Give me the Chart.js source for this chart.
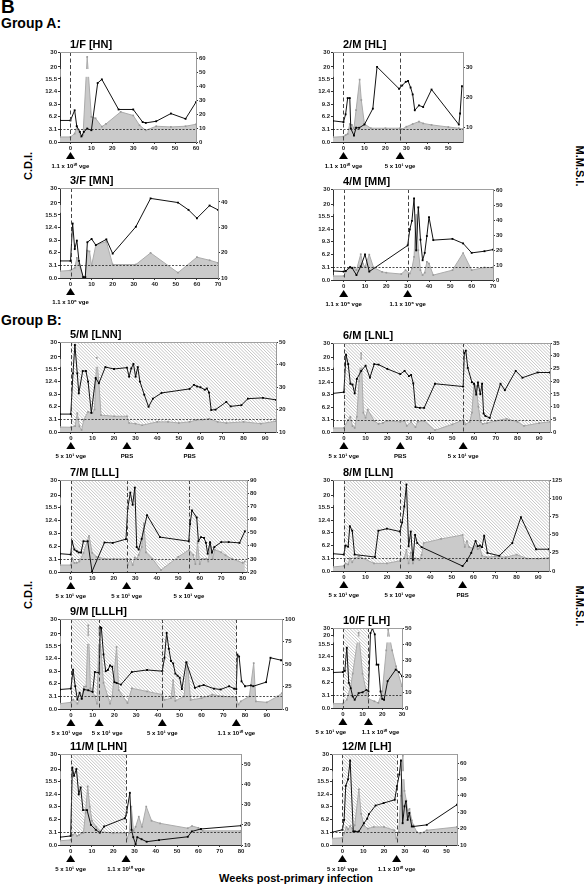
<!DOCTYPE html>
<html><head><meta charset="utf-8">
<script src="https://cdn.jsdelivr.net/npm/chart.js@4.4.0/dist/chart.umd.min.js"></script>
<style>
body{margin:0;width:584px;height:888px;position:relative;background:#fff;overflow:hidden;font-family:"Liberation Sans",Arial,sans-serif}
.t{position:absolute;font-weight:bold;color:#000;white-space:nowrap}
canvas{position:absolute}
</style></head><body>
<div class="t" style="left:1px;top:-3px;font-size:19px;line-height:19px">B</div>
<div class="t" style="left:1px;top:16px;font-size:14px;line-height:14px">Group A:</div>
<div class="t" style="left:1px;top:313px;font-size:14px;line-height:14px">Group B:</div>
<div class="t" style="left:28px;top:166px;font-size:11px;line-height:11px;transform:translate(-50%,-50%) rotate(-90deg)">C.D.I.</div>
<div class="t" style="left:28px;top:595px;font-size:11px;line-height:11px;transform:translate(-50%,-50%) rotate(-90deg)">C.D.I.</div>
<div class="t" style="left:579px;top:166px;font-size:11px;line-height:11px;transform:translate(-50%,-50%) rotate(90deg)">M.M.S.I.</div>
<div class="t" style="left:579px;top:606px;font-size:11px;line-height:11px;transform:translate(-50%,-50%) rotate(90deg)">M.M.S.I.</div>
<div class="t" style="left:296px;top:878px;font-size:11px;line-height:11px;transform:translate(-50%,-50%)">Weeks post-primary infection</div>
<script>
// C.D.I. axis is broken: 0-15.5 linear, then 20 and 30 squeezed on top
const cdiTicks = [0, 3.1, 6.2, 9.3, 12.4, 15.5, 20, 30];
const cdiLabels = ['0.0', '3.1', '6.2', '9.3', '12.4', '15.5', '20', '30'];

// [week, value]
const p1Cdi = [[-5,5.3],[0,5.3],[2,7.8],[3,3.9],[4.5,2.5],[5.3,1.4],[6.4,2.5],[8,3.3],[10,2.9],[13,14.5],[15,15.4],[23,8.0],[30,8.0],[34.5,4.9],[36,4.7],[41,5.1],[48,7.0],[55,5.7],[60,9.8]];
const p1Mmsi = [[-5,3.6],[0,3.6],[2,6],[3,10.8],[5,3.6],[6,5],[8,61],[10,18],[12,17],[15,11],[17,13],[24,21.6],[30,19],[33,12],[36,8.4],[41,11.3],[48,10.8],[55,11.3],[60,12.7]];
const p2Cdi = [[-5,5.2],[0,4.9],[1,6.8],[2,10.8],[3,10.8],[3.5,3.3],[5,1.6],[6,3.5],[7.5,3.5],[10,4.3],[14,8.2],[16,20],[26.5,13.1],[28,13.9],[29.7,14.8],[30.8,15.0],[32,13.4],[33,11.7],[34,7.8],[36,9.0],[38,8.6],[42,12.9],[55,4.3],[55.6,7.0],[56.5,13.7]];
const p2Mmsi = [[-5,6.6],[0,6.8],[1,7.3],[2,7.7],[3,11],[4,10.7],[5,9.6],[6,15.6],[7.7,25.8],[8.5,19],[10,11],[13,9.6],[20,9.6],[27,9.6],[28,9.3],[30,10.1],[33,11],[36,11.8],[38,11.2],[42,10.7],[50,10],[55,9.6],[57,9.3]];
const p3Cdi = [[-5,4.2],[0,4.2],[1,13.4],[2,7.1],[3,9.2],[4,4.2],[6,0.2],[7,0.2],[8,8.8],[10,9.6],[12,8.1],[17,9.5],[20,6.0],[31,12.6],[38,23],[51,20.2],[56,17.4],[60,14.7],[66,19],[70,17.4]];
const p3Mmsi = [[-5,12.7],[0,13],[2,14],[3,17.9],[4,15.3],[6,10.5],[7,10.5],[8,20.8],[9,20.5],[10,14.9],[12,23],[17,24.4],[20,15.3],[31,15.3],[38,19.9],[51,12.1],[60,18.2],[66,17],[70,16]];
const p4Cdi = [[-5,2.2],[0,2.05],[1,2.2],[3,3.1],[4,2.9],[6,1.2],[8,3.3],[10,6.2],[12,2.05],[30,8.4],[31,12.3],[32,14.4],[33,23.8],[34,7.2],[35,18.8],[36,9.8],[37,4.8],[38,6.6],[39,10.7],[40,15.3],[42,9.7],[51,10.0],[56,8.9],[60,6.6],[66,7.0],[70,7.4]];
const p4Mmsi = [[-5,2.7],[0,2.7],[2,7.7],[3,8.8],[5,8.4],[6,6.6],[8,17.3],[9,11],[10,8.8],[12,17],[14,8.4],[18,5.5],[20,4.9],[27,4],[29,6.6],[31,4.4],[32,7.7],[33,15.5],[34,47.6],[35,20],[36,6.6],[37,3.3],[38,4.9],[39,12.2],[40,11],[42,3.3],[51,6.6],[56,18.1],[60,6.6],[66,8.4],[70,8.4]];
const p5Cdi = [[-5,4.4],[0,4.4],[1,14.4],[1.9,28],[3,14.4],[3.7,9.5],[5.5,15],[7,15],[8,12.4],[9.5,4.7],[11.5,13.3],[13,12],[16,16.2],[20,15.5],[26,16],[27,13.6],[28,15.7],[29,17.4],[30,13.6],[31,16.2],[32,12.4],[34,9.2],[36,6.2],[38,8.2],[42,9.6],[55,10.6],[57,11.6],[58.5,11.2],[60,11],[62,10.4],[63,10.7],[64,9.7],[65,5.4],[67,5.5],[72,7.4],[74,6.3],[79,6.6],[82,8.2],[89,8.4],[95,7.9]];
const p5Mmsi = [[-5,12.2],[0,12.1],[2,12.6],[3,18.4],[4,12.5],[5,10.9],[6,15.4],[8,19],[10,18.5],[11,20],[12,43],[13,32],[14,17.5],[20,17],[26,17],[27,14],[30,13.7],[33,13],[40,14.5],[45,14.5],[50,14],[55,14.5],[58,15.3],[61,15.5],[64,15.9],[68,14.5],[72,14],[80,14.5],[88,13.7],[95,14.8]];
const p6Cdi = [[-5,9.6],[0,9.9],[1,22],[2,17.6],[3,12],[4,11.8],[5,9.6],[6,13.2],[8,15.2],[10,17],[12,13.5],[14,17.6],[16,17.4],[20,15.8],[26,14.4],[28,15.2],[30,13.9],[31,14.2],[32,12.1],[33,6.2],[35,6],[37,6],[42,12],[55,11.3],[55.5,23],[56.2,24.8],[57.1,16.2],[59,12.4],[60,12],[61,9.3],[61.8,12.3],[62.9,9.4],[63.7,12],[64.4,4.6],[65.2,4],[67.2,3.5],[72.2,12],[74.2,10.4],[79.2,15.2],[82.3,13.5],[89.3,14.8],[95,14.8]];
const p6Mmsi = [[-5,1.6],[0,1.6],[2,4.7],[3,6],[4,2.3],[5,1.6],[6,6],[7,20],[8,31],[9,7.6],[10,5.6],[11,8.8],[14,4.4],[16,3.2],[18,3.6],[20,4.4],[26,4],[28,4.4],[29,2.4],[31,4],[33,1.9],[34,4],[37,4.4],[42,0.7],[50,3],[55,4.7],[56,3],[58,4],[59,7.6],[60,19],[61,18],[62,10],[63,4],[64,3.2],[66,3.5],[70,4.4],[75,5.2],[80,4],[83,2.4],[90,3.5],[95,4]];
const p7Cdi = [[-5,4.4],[0,4.2],[0.6,7.4],[1.7,5.4],[2.8,5.0],[3.7,4.7],[4.8,4.7],[5.9,7.4],[7.9,7.4],[9.9,0.1],[15.7,7.1],[19.5,7.0],[25.7,7.9],[26.5,15.3],[27.7,21.7],[28.8,16.5],[29.8,25],[30.7,6],[31.6,5.4],[33,8],[35.5,13.7],[41.5,8.4],[54.9,7.4],[55.5,11.5],[56.4,14.8],[58.6,13.1],[59.4,7.4],[60.6,8.4],[62,8.2],[62.9,7],[63.7,4.4],[64.8,7.2],[65.7,4.7],[66.8,6],[70,7.2],[73.5,7.2],[78.5,7.0],[81,9.8]];
const p7Mmsi = [[-5,25.3],[0,25.3],[0.6,30.7],[1.7,26.9],[2.8,27],[4,28],[5.9,34.5],[8.5,47.5],[10,34.5],[12,31.5],[16,30],[20,30],[26,30],[26.5,25.3],[27.7,30],[28.8,25.3],[29.8,31],[30.7,30],[31.6,33],[33,39],[34,57],[35,35],[38,30],[42,21.5],[50,31.5],[55,36.8],[57,33],[58,26],[59,42],[60,26],[61,30],[63,30],[64,28],[65,42],[66,30],[67,37],[70,35],[72,32.7],[75,30],[80,27],[81,28]];
const p8Cdi = [[-5,4.2],[0,4.0],[0.8,6.2],[2,5.9],[2.8,10.9],[3.9,9.8],[5,4],[14.4,3.4],[16,9.8],[20,10.3],[26,9.6],[27,11.8],[28,15.8],[29,27],[30,6],[31,9.6],[32,2.7],[33,8.8],[34,6.8],[36,5.8],[55,1.2],[57,2.5],[59,4.4],[61,7.3],[62,6],[63,6.2],[64,5.8],[65,8.6],[66.5,4.4],[72,3.7],[78,6.8],[82,13.1],[89,5.3],[95,5.3]];
const p8Mmsi = [[-5,5.5],[0,7],[0.8,10.5],[2,9],[2.8,17.5],[3.9,12],[5,17.5],[7,20],[14,10.5],[20,10.5],[26,14],[28,17.5],[29,29],[30,10.5],[31,25],[32,10.5],[33,17.5],[35,15],[36,22],[37,38.5],[45,44],[55,49.5],[56,33],[57,41],[58,33],[60,31],[61,35],[62,30],[63,32],[64,21],[66,19],[70,20],[75,19],[80,22.5],[85,17],[90,17],[95,18]];
const p9Cdi = [[-5,4.8],[0,5.0],[1,9.7],[2,5.6],[3,2.3],[4,4.0],[5,2.5],[6,4.8],[8,4.6],[10,4.2],[11,9.1],[13,8.9],[13.5,24.6],[14,24],[15,13.4],[16,9.3],[17,9.6],[18,10.7],[19,10.4],[20,6.6],[21,6.4],[23,6.0],[28,9.1],[35,9.6],[42,9.3],[43,12.6],[44,20.7],[45,14.8],[46,11.8],[47,11.2],[48,8.7],[49,8.2],[50,7.7],[51,4.9],[53,11.5],[57,5.2],[59,5.6],[61,5.9],[65.7,5.0],[68.8,4.8],[72.7,5.6],[75,5.0],[76,4.9],[76.5,13.4],[77.3,12.9],[78.4,6.8],[80,5.6],[82.7,5.8],[83.8,5.6],[89.7,6.6],[91.7,12.6],[96.6,12.0]];
const p9Mmsi = [[-5,5.9],[0,7.4],[1,10.3],[3,6],[5,14],[6,25],[7,25],[8,93],[9,23],[11,14],[12,6],[13,90],[15,29],[17,14],[18,6],[19,14],[21,69],[22,21],[26,6.6],[28,23],[35,19.5],[42,16],[43,10],[46,12],[47,32],[48,9],[52,14],[53.5,52],[55,10],[60,12],[65,16],[70,14],[76,13],[77,5],[78,8.5],[82,14],[84,51],[85,8.5],[90,7.4],[95,14],[97,17.7]];
const p10Cdi = [[-5,8.6],[0,8.7],[1,9.0],[2,14.6],[3,6.1],[4,4.8],[5,2.8],[6,2.0],[8,3.6],[10,3.8],[12,4.4],[13,4.0],[14,22.8],[15,29],[16.2,21],[17.1,10.5],[18,10.5],[19.1,4.0],[20,2.2],[20.9,2.0],[22.7,6.5],[26.8,9.3],[28.5,8.7],[30,7.7]];
const p10Mmsi = [[-5,2.7],[0,2.7],[2,5.2],[4,13.6],[5,21.5],[8,47],[10,21.5],[12,9.4],[13,5.7],[16,4.2],[18,3.2],[20,10.4],[22,36],[23,49],[25,36],[27,26],[30,13.6]];
const p11Cdi = [[-5,1.9],[0,2.2],[0.8,21],[1.6,17.5],[2.7,20],[3.8,12.3],[4.7,14],[5.8,8.5],[7.7,8.5],[9.5,4.9],[11.8,3.7],[13.7,3.0],[15.7,4.5],[25.5,6.5],[26.3,7.9],[27.8,12.7],[28.6,3.7],[29.4,1.9],[30.5,0.2],[31.3,1.9],[33.3,1.4],[35.7,0.8],[41.5,1.2],[55,2.0],[56.9,3.3],[61.2,3.9],[80,4.7]];
const p11Mmsi = [[-5,12.1],[0,12.5],[1,15],[2,16],[3,14.5],[4,15],[5,15.8],[6,16],[7,26],[8,39],[9,29],[10,22],[12,19],[14,16.6],[20,15.8],[26,15.8],[26.5,13.3],[27.5,15.8],[28.5,29],[29.5,17],[30.5,19],[32,24],[33.5,19],[35.5,29],[38,22],[42,20.7],[55,18.3],[57,19.4],[60,18.5],[62,17],[80,17]];
const p12Cdi = [[-5,3.1],[0,3.7],[0.8,6.1],[1.6,14.4],[2.7,16.2],[3.7,25.7],[5.2,3.3],[6,3.3],[7.9,3.3],[10.3,5.3],[11.9,6.4],[12.7,7.5],[15.9,9.6],[19.8,10.2],[25.1,11],[26.2,14.3],[27.3,18],[28.1,25.7],[28.9,5.3],[29.8,9.4],[30.5,10.6],[31.3,6.1],[32.1,7.8],[33.3,4.5],[34.1,4.5],[40.5,4.9],[55,9.8]];
const p12Mmsi = [[-5,14],[0,14.4],[0.8,17],[1.9,21],[2.7,19.5],[3.7,21.5],[4.8,20],[5.9,22],[7.9,44],[9,29],[10.3,22],[12.2,20],[15,21],[20,21],[24.9,19],[25.9,14],[27,18],[28,40],[29,64.5],[29.8,43],[30.7,37],[31.3,31],[32.2,32],[33.3,25],[34.1,22],[35.7,18],[37.3,17],[40.5,19],[55,21]];

// inoculations (week, label, label shift in px)
const HI = '1.1 x 10\u00B9\u2070 vge', LO = '5 x 10\u00B9 vge', MID = '1.1 x 10\u2076 vge';
const p1Marks = [[0,HI]];
const p2Marks = [[0,HI],[27,LO]];
const p3Marks = [[0,MID]];
const p4Marks = [[0,MID],[30,MID]];
const p5Marks = [[0,LO],[26,'PBS'],[55,'PBS']];
const p6Marks = [[0,LO],[26,'PBS'],[55,LO]];
const p7Marks = [[0,LO],[26,LO],[55,LO]];
const p8Marks = [[0,LO],[26,LO],[55,'PBS']];
const p9Marks = [[0,LO,-4],[13,LO,8],[42,LO],[76,HI]];
const p10Marks = [[0,LO,-12],[13,HI,12]];
const p11Marks = [[0,LO],[26,HI]];
const p12Marks = [[0,LO],[26,HI]];

const ticks10 = n => { const a = []; for (let v = 0; v <= n; v += 10) a.push(v); return a; };

// where each C.D.I. tick sits on the (stretched) axis
const cdiStd = [0, 1, 2, 3, 4, 5, 5.96, 7.14];
const cdiShort = [0, 1, 2, 3, 4, 5, 5.7, 6.25];

const panels = [
  {title:'1/F [HN]', cdi:p1Cdi, mmsi:p1Mmsi, marks:p1Marks, L:60, R:196, T:52, B:142, xmax:60, rmin:0, rmax:64.5, rticks:[0,10,20,30,40,50,60], vlines:[0]},
  {title:'2/M [HL]', cdi:p2Cdi, mmsi:p2Mmsi, marks:p2Marks, L:333, R:463, T:52, B:142, xmax:57, rmin:5, rmax:35, rticks:[10,20,30], vlines:[0,27]},
  {title:'3/F [MN]', cdi:p3Cdi, mmsi:p3Mmsi, marks:p3Marks, L:60, R:218, T:188, B:278, xmax:70, rmin:10, rmax:45.5, rticks:[10,20,30,40], vlines:[0]},
  {title:'4/M [MM]', cdi:p4Cdi, mmsi:p4Mmsi, marks:p4Marks, L:333, R:493, T:189, B:280, xmax:70, rmin:0, rmax:61, rticks:[0,10,20,30,40,50,60], vlines:[0,30]},
  {title:'5/M [LNN]', cdi:p5Cdi, mmsi:p5Mmsi, marks:p5Marks, L:60, R:276, T:342, B:432, xmax:95, rmin:10, rmax:50, rticks:[10,20,30,40,50], vlines:[0], hatch:[0,95]},
  {title:'6/M [LNL]', cdi:p6Cdi, mmsi:p6Mmsi, marks:p6Marks, L:333, R:550, T:343, B:432, xmax:95, rmin:0, rmax:35, rticks:[0,5,10,15,20,25,30,35], vlines:[0,55], hatch:[0,95]},
  {title:'7/M [LLL]', cdi:p7Cdi, mmsi:p7Mmsi, marks:p7Marks, L:60, R:247, T:480, B:572, xmax:82, rmin:20, rmax:90, rticks:[20,30,40,50,60,70,80,90], vlines:[0,26,55], hatch:[0,82]},
  {title:'8/M [LLN]', cdi:p8Cdi, mmsi:p8Mmsi, marks:p8Marks, L:333, R:549, T:480, B:571, xmax:95, rmin:0, rmax:125, rticks:[0,25,50,75,100,125], vlines:[0,26], hatch:[0,95]},
  {title:'9/M [LLLH]', cdi:p9Cdi, mmsi:p9Mmsi, marks:p9Marks, L:60, R:282, T:619, B:709, xmax:97, rmin:0, rmax:100, rticks:[0,25,50,75,100], vlines:[0,13,42,76], hatch:[0,76]},
  {title:'10/F [LH]', cdi:p10Cdi, mmsi:p10Mmsi, marks:p10Marks, L:333, R:402, T:628, B:708, xmax:30, rmin:0, rmax:50, rticks:[0,10,20,30,40,50], vlines:[0,13], hatch:[0,13], cdiAxis:cdiShort},
  {title:'11/M [LHN]', cdi:p11Cdi, mmsi:p11Mmsi, marks:p11Marks, L:60, R:241, T:754, B:845, xmax:80, rmin:10, rmax:55, rticks:[10,20,30,40,50], vlines:[0,26], hatch:[0,26]},
  {title:'12/M [LH]', cdi:p12Cdi, mmsi:p12Mmsi, marks:p12Marks, L:332, R:457, T:754, B:845, xmax:55, rmin:10, rmax:65.5, rticks:[10,20,30,40,50,60], vlines:[0,26], hatch:[0,26]}
];

const FONT = '"Liberation Sans", Arial, sans-serif';

function cdiPos(v, pos) {
  for (let i = 1; i < cdiTicks.length; i++) {
    if (v <= cdiTicks[i] || i === cdiTicks.length - 1) {
      const a = cdiTicks[i-1], b = cdiTicks[i];
      return pos[i-1] + (v - a) / (b - a) * (pos[i] - pos[i-1]);
    }
  }
}

function drawHatch(ctx, x0, x1, top, bottom) {
  ctx.save();
  ctx.beginPath(); ctx.rect(x0, top, x1 - x0, bottom - top); ctx.clip();
  ctx.strokeStyle = '#9d9d9d'; ctx.lineWidth = 0.6;
  ctx.beginPath();
  const h = bottom - top;
  for (let k = x0 - h; k < x1; k += 3.2) { ctx.moveTo(k, top); ctx.lineTo(k + h, bottom); }
  ctx.stroke();
  ctx.restore();
}

const decor = {
  id: 'decor',
  beforeDatasetsDraw(chart) {
    const p = chart.options.plugins.decor.panel, a = chart.chartArea, x = chart.scales.x;
    if (p.hatch) drawHatch(chart.ctx, x.getPixelForValue(p.hatch[0]), Math.min(x.getPixelForValue(p.hatch[1]), a.right), a.top, a.bottom);
  },
  afterDatasetDraw(chart, args) {
    if (args.index !== 1) return;
    // white gap of the axis break through the grey area
    const p = chart.options.plugins.decor.panel, a = chart.chartArea, x = chart.scales.x, y = chart.scales.y, ctx = chart.ctx;
    const pos = p.cdiAxis || cdiStd;
    const y1 = y.getPixelForValue(cdiPos(16.3, pos)), y2 = y.getPixelForValue(cdiPos(19.2, pos));
    ctx.save();
    ctx.fillStyle = '#fff';
    ctx.fillRect(a.left + 0.5, y2, a.width - 1, Math.max(y1 - y2, 4));
    ctx.restore();
    if (p.hatch) {
      ctx.save(); ctx.beginPath(); ctx.rect(a.left, y2, a.width, Math.max(y1 - y2, 4)); ctx.clip();
      drawHatch(ctx, x.getPixelForValue(p.hatch[0]), Math.min(x.getPixelForValue(p.hatch[1]), a.right), a.top, a.bottom);
      ctx.restore();
    }
  },
  afterDatasetsDraw(chart) {
    const p = chart.options.plugins.decor.panel, a = chart.chartArea, x = chart.scales.x, y = chart.scales.y, ctx = chart.ctx;
    const pos = p.cdiAxis || cdiStd;
    ctx.save();
    // threshold
    const ty = Math.round(y.getPixelForValue(cdiPos(3.1, pos))) + 0.5;
    ctx.strokeStyle = '#222'; ctx.lineWidth = 0.8; ctx.setLineDash([2, 1.5]);
    ctx.beginPath(); ctx.moveTo(a.left, ty); ctx.lineTo(a.right, ty); ctx.stroke();
    // inoculation lines
    ctx.strokeStyle = '#444'; ctx.lineWidth = 1; ctx.setLineDash([4, 2.5]);
    p.vlines.forEach(w => {
      const px = Math.round(x.getPixelForValue(w)) + 0.5;
      ctx.beginPath(); ctx.moveTo(px, a.top); ctx.lineTo(px, a.bottom); ctx.stroke();
    });
    ctx.setLineDash([]);
    // top frame
    ctx.strokeStyle = '#a0a0a0'; ctx.lineWidth = 1;
    ctx.beginPath(); ctx.moveTo(a.left, a.top + 0.5); ctx.lineTo(a.right, a.top + 0.5); ctx.stroke();
    // triangles + labels
    ctx.fillStyle = '#000';
    ctx.textAlign = 'center'; ctx.textBaseline = 'middle';
    ctx.font = 'bold 6px ' + FONT;
    p.marks.forEach(([w, lab, dx]) => {
      const px = x.getPixelForValue(w);
      ctx.beginPath();
      ctx.moveTo(px, a.bottom + 10); ctx.lineTo(px + 4.5, a.bottom + 17); ctx.lineTo(px - 4.5, a.bottom + 17);
      ctx.closePath(); ctx.fill();
      ctx.fillText(lab, px + (dx || 0), a.bottom + 24);
    });
    // title
    ctx.textAlign = 'left';
    ctx.font = 'bold 11px ' + FONT;
    ctx.fillText(p.title, a.left + 10, a.top - 7);
    ctx.restore();
  }
};

const tickFont = {family: FONT, size: 6, weight: 'bold'};

panels.forEach(p => {
  const pos = p.cdiAxis || cdiStd;
  const cv = document.createElement('canvas');
  const W = p.R - p.L + 70, H = p.B - p.T + 60;
  cv.width = W; cv.height = H;
  cv.style.left = (p.L - 40) + 'px'; cv.style.top = (p.T - 20) + 'px';
  cv.style.width = W + 'px'; cv.style.height = H + 'px';
  document.body.appendChild(cv);

  new Chart(cv, {
    type: 'line',
    data: {
      datasets: [
        {
          label: 'C.D.I.', yAxisID: 'y',
          data: p.cdi.map(([w, v]) => ({x: w, y: cdiPos(v, pos)})),
          borderColor: '#111', borderWidth: 1, fill: false, tension: 0,
          pointStyle: 'rect', pointRadius: 1.3, pointBackgroundColor: '#000', pointBorderWidth: 0
        },
        {
          label: 'M.M.S.I.', yAxisID: 'y2',
          data: p.mmsi.map(([w, v]) => ({x: w, y: v})),
          borderColor: '#ababab', borderWidth: 1, backgroundColor: '#cacaca', fill: 'start', tension: 0,
          pointStyle: 'rect', pointRadius: 1.2, pointBackgroundColor: '#9a9a9a', pointBorderWidth: 0
        }
      ]
    },
    options: {
      responsive: false, animation: false, events: [],
      layout: {autoPadding: false, padding: {left: 10, top: 20, right: 5, bottom: 28}},
      plugins: {legend: {display: false}, tooltip: {enabled: false}, decor: {panel: p}},
      scales: {
        x: {
          type: 'linear', min: -5, max: p.xmax,
          afterBuildTicks: s => { s.ticks = ticks10(p.xmax).map(v => ({value: v})); },
          afterFit: s => { s.height = 12; },
          grid: {drawOnChartArea: false, tickLength: 2, color: '#333'},
          border: {color: '#333'},
          ticks: {font: tickFont, color: '#222', padding: 1, maxRotation: 0, autoSkip: false}
        },
        y: {
          position: 'left', min: 0, max: pos[pos.length - 1],
          afterBuildTicks: s => { s.ticks = pos.map(v => ({value: v})); },
          afterFit: s => { s.width = 30; },
          grid: {drawOnChartArea: false, tickLength: 2, color: '#333'},
          border: {color: '#333'},
          ticks: {font: tickFont, color: '#222', padding: 1, autoSkip: false,
                  callback: v => cdiLabels[pos.indexOf(v)]}
        },
        y2: {
          position: 'right', min: p.rmin, max: p.rmax,
          afterBuildTicks: s => { s.ticks = p.rticks.map(v => ({value: v})); },
          afterFit: s => { s.width = 25; },
          grid: {drawOnChartArea: false, tickLength: 2, color: '#333'},
          border: {color: '#999'},
          ticks: {font: tickFont, color: '#222', padding: 1, autoSkip: false}
        }
      }
    },
    plugins: [decor]
  });
});
</script>
</body></html>
